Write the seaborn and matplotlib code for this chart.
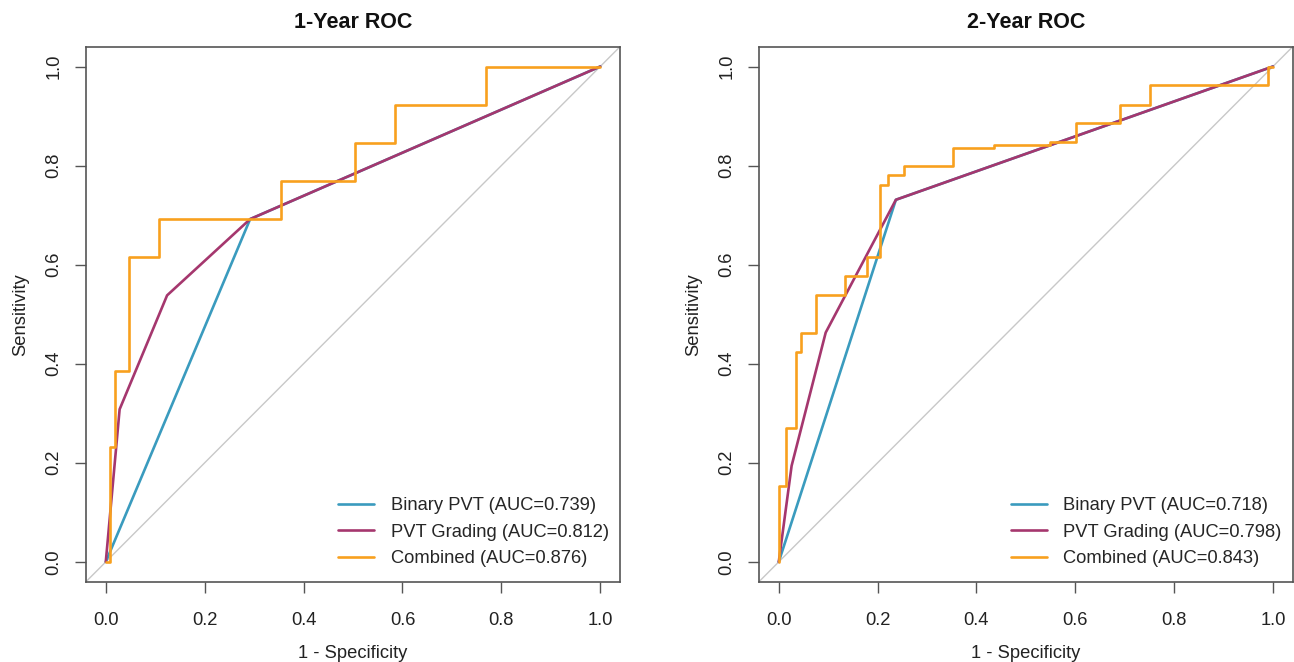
import matplotlib
matplotlib.use("Agg")
import matplotlib.pyplot as plt
import seaborn as sns
from matplotlib.lines import Line2D

sns.set_theme(style="white")
plt.rcParams["font.family"] = ["Liberation Sans", "DejaVu Sans"]

# ---------------- data ----------------
titles = ["1-Year ROC", "2-Year ROC"]
series_names = ["Binary PVT", "PVT Grading", "Combined"]
auc_1y = [0.739, 0.812, 0.876]
auc_2y = [0.718, 0.798, 0.843]

# 1-year curves (x = 1 - specificity, y = sensitivity)
binary_1y_x = [0.0, 0.292, 1.0]
binary_1y_y = [0.0, 0.692, 1.0]
grading_1y_x = [0.0, 0.028, 0.124, 0.292, 1.0]
grading_1y_y = [0.0, 0.308, 0.538, 0.692, 1.0]
combined_1y_x = [0.0, 0.008, 0.018, 0.047, 0.107, 0.354, 0.505, 0.584, 0.769, 1.0]
combined_1y_y = [0.0, 0.231, 0.385, 0.615, 0.692, 0.769, 0.846, 0.923, 1.0, 1.0]

# 2-year curves
binary_2y_x = [0.0, 0.237, 1.0]
binary_2y_y = [0.0, 0.731, 1.0]
grading_2y_x = [0.0, 0.026, 0.095, 0.237, 1.0]
grading_2y_y = [0.0, 0.194, 0.463, 0.731, 1.0]
combined_2y_x = [0.0, 0.0, 0.014, 0.034, 0.046, 0.075, 0.135, 0.178, 0.204, 0.222,
                 0.254, 0.352, 0.436, 0.549, 0.602, 0.691, 0.751, 0.990, 1.0]
combined_2y_y = [0.0, 0.154, 0.270, 0.423, 0.462, 0.538, 0.577, 0.615, 0.760, 0.782,
                 0.800, 0.836, 0.842, 0.847, 0.885, 0.923, 0.962, 1.0, 1.0]

tick_vals = [0.0, 0.2, 0.4, 0.6, 0.8, 1.0]
tick_labels = ["0.0", "0.2", "0.4", "0.6", "0.8", "1.0"]

colors = ["#3A9BBE", "#A5376E", "#F8A01E"]
diag_color = "#C8C8C8"
spine_color = "#555555"

W, H = 1294, 662
fig = plt.figure(figsize=(W / 100, H / 100), dpi=100)
ax_rects = [
    [86 / W, (H - 581.7) / H, 534 / W, 535 / H],
    [759 / W, (H - 581.7) / H, 533.7 / W, 535 / H],
]

panels = [
    (titles[0], auc_1y, [(binary_1y_x, binary_1y_y), (grading_1y_x, grading_1y_y), (combined_1y_x, combined_1y_y)]),
    (titles[1], auc_2y, [(binary_2y_x, binary_2y_y), (grading_2y_x, grading_2y_y), (combined_2y_x, combined_2y_y)]),
]

fs = 13.2
for rect, (title, aucs, curves) in zip(ax_rects, panels):
    ax = fig.add_axes(rect)
    ax.axline((0, 0), (1, 1), color=diag_color, lw=1.0, zorder=1)
    for i, ((xs, ys), c) in enumerate(zip(curves, colors)):
        kw = dict(x=xs, y=ys, ax=ax, color=c, lw=1.9, estimator=None, sort=False,
                  legend=False, zorder=2 + i)
        if i == 2:
            kw["drawstyle"] = "steps-post"
        sns.lineplot(**kw)
    ax.set_xlim(-0.04, 1.04)
    ax.set_ylim(-0.04, 1.04)
    ax.set_xticks(tick_vals)
    ax.set_xticklabels(tick_labels)
    ax.set_yticks(tick_vals)
    ax.set_yticklabels(tick_labels, rotation=90, va="center")
    ax.tick_params(axis="both", which="major", direction="out", length=8, width=1.0,
                   color=spine_color, labelsize=fs, labelcolor="#222222", bottom=True, left=True)
    ax.tick_params(axis="x", pad=13.5)
    ax.tick_params(axis="y", pad=9)
    for s in ax.spines.values():
        s.set_visible(True)
        s.set_color(spine_color)
        s.set_linewidth(1.2)
    ax.set_title(title, fontsize=15.5, fontweight="bold", pad=13.5, color="#111111")
    ax.set_xlabel("1 - Specificity", fontsize=fs, labelpad=11.5, color="#222222")
    ax.set_ylabel("Sensitivity", fontsize=fs, labelpad=12, color="#222222")
    handles = [Line2D([0], [0], color=c, lw=1.9) for c in colors]
    labels = [f"{n} (AUC={a:.3f})" for n, a in zip(series_names, aucs)]
    ax.legend(handles, labels, loc="lower right", bbox_to_anchor=(0.979, 0.027),
              frameon=False, fontsize=fs, handlelength=1.95, handletextpad=0.9,
              labelspacing=0.52, borderpad=0, borderaxespad=0)
    ax.grid(False)

fig.savefig("out.png", dpi=100, facecolor="white")
